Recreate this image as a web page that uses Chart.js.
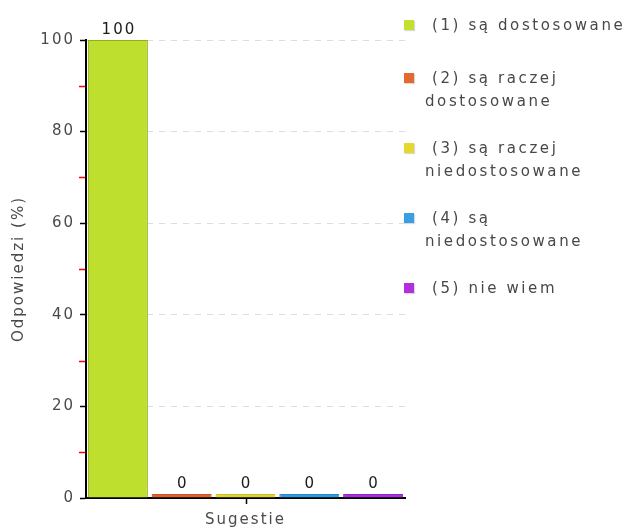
<!DOCTYPE html>
<html>
<head>
<meta charset="utf-8">
<script src="https://cdn.jsdelivr.net/npm/chart.js@4.4.1/dist/chart.umd.min.js"></script>
<style>
    body { margin: 0; background: #fff; }
    #wrap { position: relative; width: 633px; height: 528px; }
    #legend {
        position: absolute; left: 404px; top: 0; width: 229px;
        font: 15px 'DejaVu Sans', sans-serif; letter-spacing: 2.6px; color: #484848;
    }
    .item { position: absolute; left: 0; line-height: 23px; }
    .swatch { position: absolute; left: 0; top: 6px; width: 10px; height: 10px; box-shadow: 1px 1px 1px rgba(0,0,0,0.15); }
    .text { margin-left: 21px; text-indent: 7px; white-space: nowrap; }
</style>
</head>
<body>
<div id="wrap">
    <canvas id="chart" width="633" height="528"></canvas>
    <div id="legend"></div>
</div>
<script>
const categories = ['Sugestie'];
const seriesLabels = [
    '(1) są dostosowane',
    '(2) są raczej\ndostosowane',
    '(3) są raczej\nniedostosowane',
    '(4) są\nniedostosowane',
    '(5) nie wiem',
];
const seriesValues = [100, 0, 0, 0, 0];
const seriesColors = ['#bfdf2e', '#e0612c', '#e3d52f', '#2f9ce0', '#aa2fe0'];
const seriesBorders = ['#8fb01a', '#c9502a', '#cbbd27', '#2888c8', '#9126c8'];
const legendColors = ['#c2e12f', '#e5682f', '#e6d72f', '#3a9fe0', '#b22fe0'];
const yTicks = [0, 20, 40, 60, 80, 100];
const yMinorTicks = [10, 30, 50, 70, 90];

const font = { family: "'DejaVu Sans', sans-serif", size: 15 };

// legend as html, lines split where the original wraps
const legendEl = document.getElementById('legend');
let itemTop = 14;
seriesLabels.forEach((label, i) => {
    const lines = label.split('\n');
    const item = document.createElement('div');
    item.className = 'item';
    item.style.top = `${itemTop}px`;
    const swatch = document.createElement('div');
    swatch.className = 'swatch';
    swatch.style.background = legendColors[i];
    const text = document.createElement('div');
    text.className = 'text';
    lines.forEach((line, j) => {
        if (j > 0) text.appendChild(document.createElement('br'));
        text.appendChild(document.createTextNode(line));
    });
    item.appendChild(swatch);
    item.appendChild(text);
    legendEl.appendChild(item);
    itemTop += 35 + 17.5 * lines.length;
});

const spacing = {
    id: 'spacing',
    beforeLayout(chart) { chart.ctx.letterSpacing = '2px'; },
    beforeDraw(chart) { chart.ctx.letterSpacing = '2px'; },
};

const extras = {
    id: 'extras',
    afterDraw(chart) {
        const { ctx } = chart;
        const { x, y } = chart.scales;
        ctx.save();
        // minor ticks in red between the labelled ones
        ctx.strokeStyle = '#ff0000';
        ctx.lineWidth = 1.5;
        yMinorTicks.forEach((v) => {
            const py = Math.round(y.getPixelForValue(v)) + 0.5;
            ctx.beginPath();
            ctx.moveTo(y.right - 7, py);
            ctx.lineTo(y.right - 1, py);
            ctx.stroke();
        });
        // category tick under the x axis
        const cx = Math.round(x.getPixelForValue(0)) + 0.5;
        ctx.strokeStyle = '#000';
        ctx.lineWidth = 1.5;
        ctx.beginPath();
        ctx.moveTo(cx, x.top);
        ctx.lineTo(cx, x.top + 6);
        ctx.stroke();
        // value labels above the bars
        ctx.fillStyle = '#1a1a1a';
        ctx.font = `15px ${font.family}`;
        ctx.textAlign = 'center';
        ctx.textBaseline = 'bottom';
        chart.data.datasets.forEach((ds, i) => {
            const bar = chart.getDatasetMeta(i).data[0];
            ctx.fillText(String(ds.data[0]), bar.x + 1, bar.y - 2);
        });
        ctx.restore();
    },
};

new Chart(document.getElementById('chart'), {
    type: 'bar',
    data: {
        labels: categories,
        datasets: seriesLabels.map((label, i) => ({
            label: label.replace('\n', ' '),
            data: [seriesValues[i]],
            backgroundColor: seriesColors[i],
            borderColor: seriesBorders[i],
            borderWidth: { top: 1, left: 1, right: 1, bottom: 0 },
            borderSkipped: false,
            minBarLength: 4,
            barPercentage: 0.94,
            categoryPercentage: 1,
        })),
    },
    options: {
        responsive: false,
        animation: false,
        layout: { padding: { left: 10, top: 40, right: 228, bottom: 0 } },
        plugins: { legend: { display: false }, tooltip: { enabled: false } },
        scales: {
            x: {
                afterFit: (scale) => { scale.height = 30; },
                grid: { display: false },
                border: { color: '#000', width: 2 },
                ticks: { color: '#4a4a4a', font, padding: 5 },
            },
            y: {
                min: 0,
                max: 100,
                afterFit: (scale) => { scale.width = 76; },
                afterBuildTicks: (scale) => { scale.ticks = yTicks.map((value) => ({ value })); },
                grid: { color: '#dddddd', tickColor: '#000', tickLength: 6, tickWidth: 1.5, borderDash: [6, 6] },
                border: { color: '#000', width: 2, dash: [6, 6] },
                ticks: { color: '#4a4a4a', font, padding: 5 },
                title: { display: true, text: 'Odpowiedzi (%)', color: '#4a4a4a', font, padding: 0 },
            },
        },
    },
    plugins: [spacing, extras],
});
</script>
</body>
</html>
